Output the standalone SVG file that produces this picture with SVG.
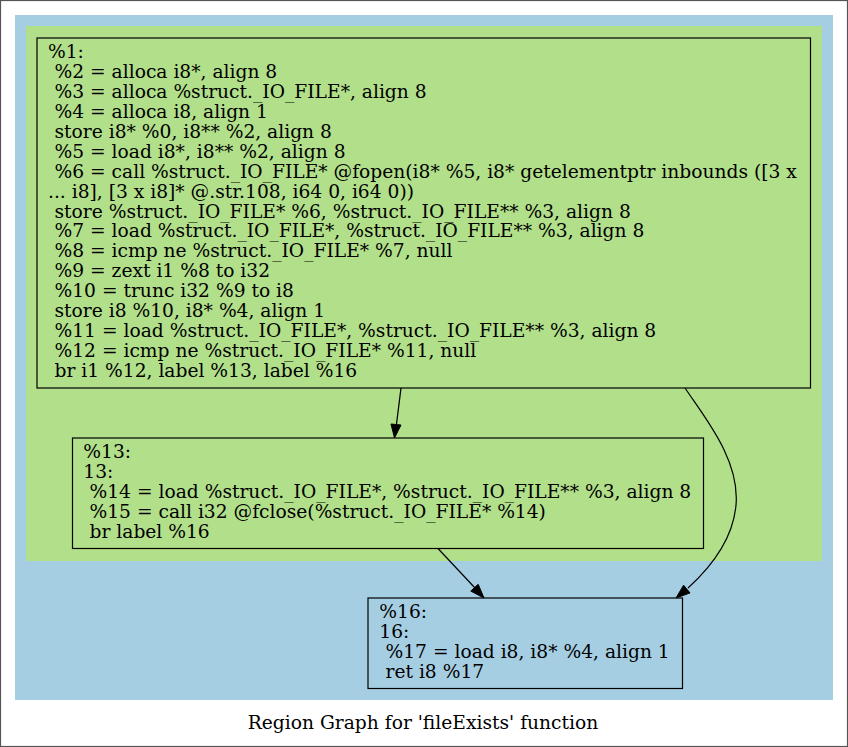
<svg xmlns="http://www.w3.org/2000/svg" width="848" height="747" viewBox="0 0 848 747">
<style>
  text { font-family: "DejaVu Serif", "Liberation Serif", serif; font-size: 18.67px; fill: #000; }
  .node rect { stroke: #000; stroke-width: 1.2; }
  .edge { fill: none; stroke: #000; stroke-width: 1.2; }
  .head { fill: #000; stroke: #000; stroke-width: 1; }
</style>
<rect x="0.5" y="0.5" width="847" height="746" fill="#fff" stroke="#555" stroke-width="1.2"/>
<g id="cluster_outer">
  <rect x="15" y="15" width="818" height="685" fill="#a6cee3"/>
</g>
<g id="cluster_inner">
  <rect x="26" y="26" width="796" height="535" fill="#b2df8a"/>
</g>
<g id="node1" class="node">
  <rect x="37" y="38" width="773.5" height="350" fill="#b2df8a"/>
  <text x="48" y="58.3">%1:</text>
  <text x="54.5" y="78.2">%2 = alloca i8*, align 8</text>
  <text x="54.5" y="98.1">%3 = alloca %struct._IO_FILE*, align 8</text>
  <text x="54.5" y="118">%4 = alloca i8, align 1</text>
  <text x="54.5" y="137.9">store i8* %0, i8** %2, align 8</text>
  <text x="54.5" y="157.8">%5 = load i8*, i8** %2, align 8</text>
  <text x="54.5" y="177.7">%6 = call %struct._IO_FILE* @fopen(i8* %5, i8* getelementptr inbounds ([3 x</text>
  <text x="48" y="197.6">... i8], [3 x i8]* @.str.108, i64 0, i64 0))</text>
  <text x="54.5" y="217.5">store %struct._IO_FILE* %6, %struct._IO_FILE** %3, align 8</text>
  <text x="54.5" y="237.4">%7 = load %struct._IO_FILE*, %struct._IO_FILE** %3, align 8</text>
  <text x="54.5" y="257.3">%8 = icmp ne %struct._IO_FILE* %7, null</text>
  <text x="54.5" y="277.2">%9 = zext i1 %8 to i32</text>
  <text x="54.5" y="297.1">%10 = trunc i32 %9 to i8</text>
  <text x="54.5" y="317">store i8 %10, i8* %4, align 1</text>
  <text x="54.5" y="336.9">%11 = load %struct._IO_FILE*, %struct._IO_FILE** %3, align 8</text>
  <text x="54.5" y="356.8">%12 = icmp ne %struct._IO_FILE* %11, null</text>
  <text x="54.5" y="376.7">br i1 %12, label %13, label %16</text>
</g>
<g id="node13" class="node">
  <rect x="72.5" y="438" width="631" height="110.5" fill="#b2df8a"/>
  <text x="83.3" y="458.3">%13:</text>
  <text x="83.3" y="478.2">13:</text>
  <text x="89.5" y="498.1">%14 = load %struct._IO_FILE*, %struct._IO_FILE** %3, align 8</text>
  <text x="89.5" y="518">%15 = call i32 @fclose(%struct._IO_FILE* %14)</text>
  <text x="89.5" y="537.9">br label %16</text>
</g>
<g id="node16" class="node">
  <rect x="368" y="598" width="314.5" height="90.5" fill="#a6cee3"/>
  <text x="379.3" y="618">%16:</text>
  <text x="379.3" y="637.9">16:</text>
  <text x="385.5" y="657.8">%17 = load i8, i8* %4, align 1</text>
  <text x="385.5" y="677.7">ret i8 %17</text>
</g>
<g id="edges">
  <path class="edge" d="M401,388 L396.5,424"/>
  <polygon class="head" points="394.5,438 391,424 401,425"/>
  <path class="edge" d="M438,548.5 L475,588"/>
  <polygon class="head" points="484,598 470.8,591.1 478.2,584.3"/>
  <path class="edge" d="M685,388 C705,418 740,460 736,505 C733,540 710,568 688,588"/>
  <polygon class="head" points="676,598 690,592.9 683.6,585.2"/>
</g>
<text x="423" y="729" text-anchor="middle">Region Graph for 'fileExists' function</text>
</svg>
